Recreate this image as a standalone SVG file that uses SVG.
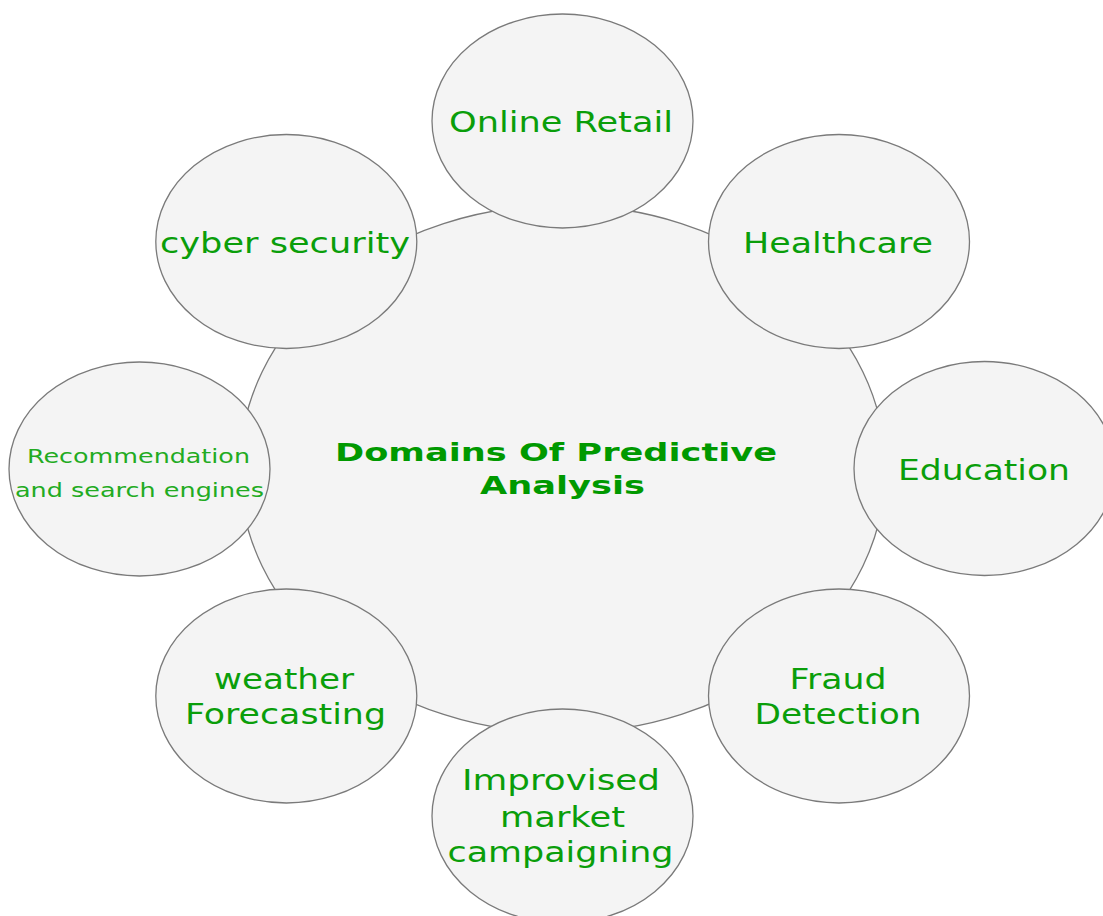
<svg xmlns="http://www.w3.org/2000/svg" width="1103" height="916" viewBox="0 0 1103 916">
<style>
.bg{fill:#ffffff}
.c{fill:#f4f4f4;stroke:#7a7a7a;stroke-width:1.3}
.t{font-family:"DejaVu Sans","Liberation Sans",sans-serif;font-size:28px;fill:#0a9e0a;text-anchor:middle}
.s{font-size:19px;fill:#22ab22}
.b{font-family:"DejaVu Sans","Liberation Sans",sans-serif;font-size:25px;font-weight:bold;fill:#009900;text-anchor:middle}
</style>
<rect class="bg" x="0" y="0" width="1103" height="916"/>
<g id="center">
<ellipse class="c" cx="562.5" cy="469" rx="323" ry="264"/>
<text class="b" x="556" y="461" textLength="442" lengthAdjust="spacingAndGlyphs">Domains Of Predictive</text>
<text class="b" x="562.5" y="494" textLength="165" lengthAdjust="spacingAndGlyphs">Analysis</text>
</g>
<g id="online-retail">
<ellipse class="c" cx="562.5" cy="121" rx="130.5" ry="107"/>
<text class="t" x="561" y="132" textLength="224" lengthAdjust="spacingAndGlyphs">Online Retail</text>
</g>
<g id="healthcare">
<ellipse class="c" cx="839" cy="241.5" rx="130.5" ry="107"/>
<text class="t" x="838" y="253" textLength="190" lengthAdjust="spacingAndGlyphs">Healthcare</text>
</g>
<g id="education">
<ellipse class="c" cx="984.5" cy="468.5" rx="130.5" ry="107"/>
<text class="t" x="984" y="479.5" textLength="172" lengthAdjust="spacingAndGlyphs">Education</text>
</g>
<g id="fraud-detection">
<ellipse class="c" cx="839" cy="696" rx="130.5" ry="107"/>
<text class="t" x="838" y="689" textLength="97" lengthAdjust="spacingAndGlyphs">Fraud</text>
<text class="t" x="838" y="724" textLength="167" lengthAdjust="spacingAndGlyphs">Detection</text>
</g>
<g id="improvised-market">
<ellipse class="c" cx="562.5" cy="816" rx="130.5" ry="107"/>
<text class="t" x="561" y="790" textLength="198" lengthAdjust="spacingAndGlyphs">Improvised</text>
<text class="t" x="562.5" y="826.5" textLength="125" lengthAdjust="spacingAndGlyphs">market</text>
<text class="t" x="560.5" y="861.5" textLength="226" lengthAdjust="spacingAndGlyphs">campaigning</text>
</g>
<g id="weather-forecasting">
<ellipse class="c" cx="286.3" cy="696" rx="130.5" ry="107"/>
<text class="t" x="284" y="689" textLength="140" lengthAdjust="spacingAndGlyphs">weather</text>
<text class="t" x="285.5" y="724" textLength="201" lengthAdjust="spacingAndGlyphs">Forecasting</text>
</g>
<g id="recommendation">
<ellipse class="c" cx="139.5" cy="469" rx="130.5" ry="107"/>
<text class="t s" x="138.5" y="463" textLength="223" lengthAdjust="spacingAndGlyphs">Recommendation</text>
<text class="t s" x="139.5" y="497" textLength="249" lengthAdjust="spacingAndGlyphs">and search engines</text>
</g>
<g id="cyber-security">
<ellipse class="c" cx="286.3" cy="241.5" rx="130.5" ry="107"/>
<text class="t" x="285" y="253" textLength="250" lengthAdjust="spacingAndGlyphs">cyber security</text>
</g>
</svg>
